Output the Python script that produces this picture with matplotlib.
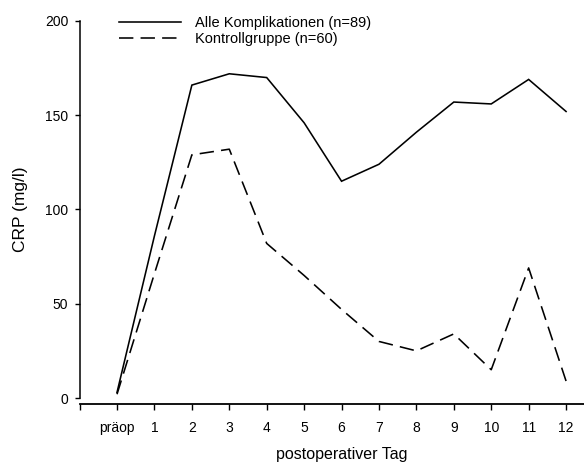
import matplotlib
matplotlib.use("Agg")
import matplotlib.pyplot as plt
from matplotlib.lines import Line2D

plt.rcParams['font.family'] = ['Liberation Sans', 'DejaVu Sans']

# Tage: präop = 0, danach postoperative Tage 1..12
tage = [0, 1, 2, 3, 4, 5, 6, 7, 8, 9, 10, 11, 12]
tick_labels = ["präop", "1", "2", "3", "4", "5", "6", "7", "8", "9", "10", "11", "12"]

crp_komplikationen = [3, 86, 166, 172, 170, 146, 115, 124, 141, 157, 156, 169, 152]
crp_kontrolle = [2, 66, 129, 132, 82, 65, 47, 30, 25, 34, 15, 69, 9]

label_kompl = "Alle Komplikationen (n=89)"
label_kontr = "Kontrollgruppe (n=60)"

fig = plt.figure(figsize=(5.84, 4.63), dpi=100)
W, H = 584, 463
x_left, x_right = 79.6, 79.6 + 37.42 * 14
y_top, y_bot = 21, 398
ax = fig.add_axes([x_left / W, (H - y_bot) / H, (x_right - x_left) / W, (y_bot - y_top) / H])

ax.plot(tage, crp_komplikationen, color="black", lw=1.15, solid_joinstyle="miter")
ax.plot(tage, crp_kontrolle, color="black", lw=1.15, dashes=(9, 4.5))

ax.set_xlim(-1, 13)
ax.set_ylim(0, 200)

for s in ("top", "right"):
    ax.spines[s].set_visible(False)
ax.spines["bottom"].set_position(("outward", 4.3))
ax.spines["left"].set_bounds(0, 200)
ax.spines["left"].set_linewidth(1.1)
ax.spines["bottom"].set_linewidth(1.3)

ax.set_xticks([-1] + tage)
ax.set_xticklabels([""] + tick_labels)
ax.set_yticks([0, 50, 100, 150, 200])

ax.tick_params(axis="x", direction="out", length=4.3, width=1.0, pad=8, labelsize=10)
ax.tick_params(axis="y", direction="out", length=3.6, width=1.0, pad=4.5, labelsize=10)

ax.set_ylabel("CRP (mg/l)", fontsize=12.5, labelpad=12)
ax.set_xlabel("postoperativer Tag", fontsize=11.5, labelpad=8.5)

handles = [Line2D([], [], color="black", lw=1.15),
           Line2D([], [], color="black", lw=1.15, dashes=(9, 4.5))]
ax.legend(handles, [label_kompl, label_kontr], loc="upper left",
          bbox_to_anchor=(119 / W, 1 - 16 / H), bbox_transform=fig.transFigure,
          frameon=False, fontsize=10.5, handlelength=4.25, handletextpad=0.95,
          labelspacing=0.12, borderpad=0, borderaxespad=0)

fig.savefig("out.png", dpi=100)
